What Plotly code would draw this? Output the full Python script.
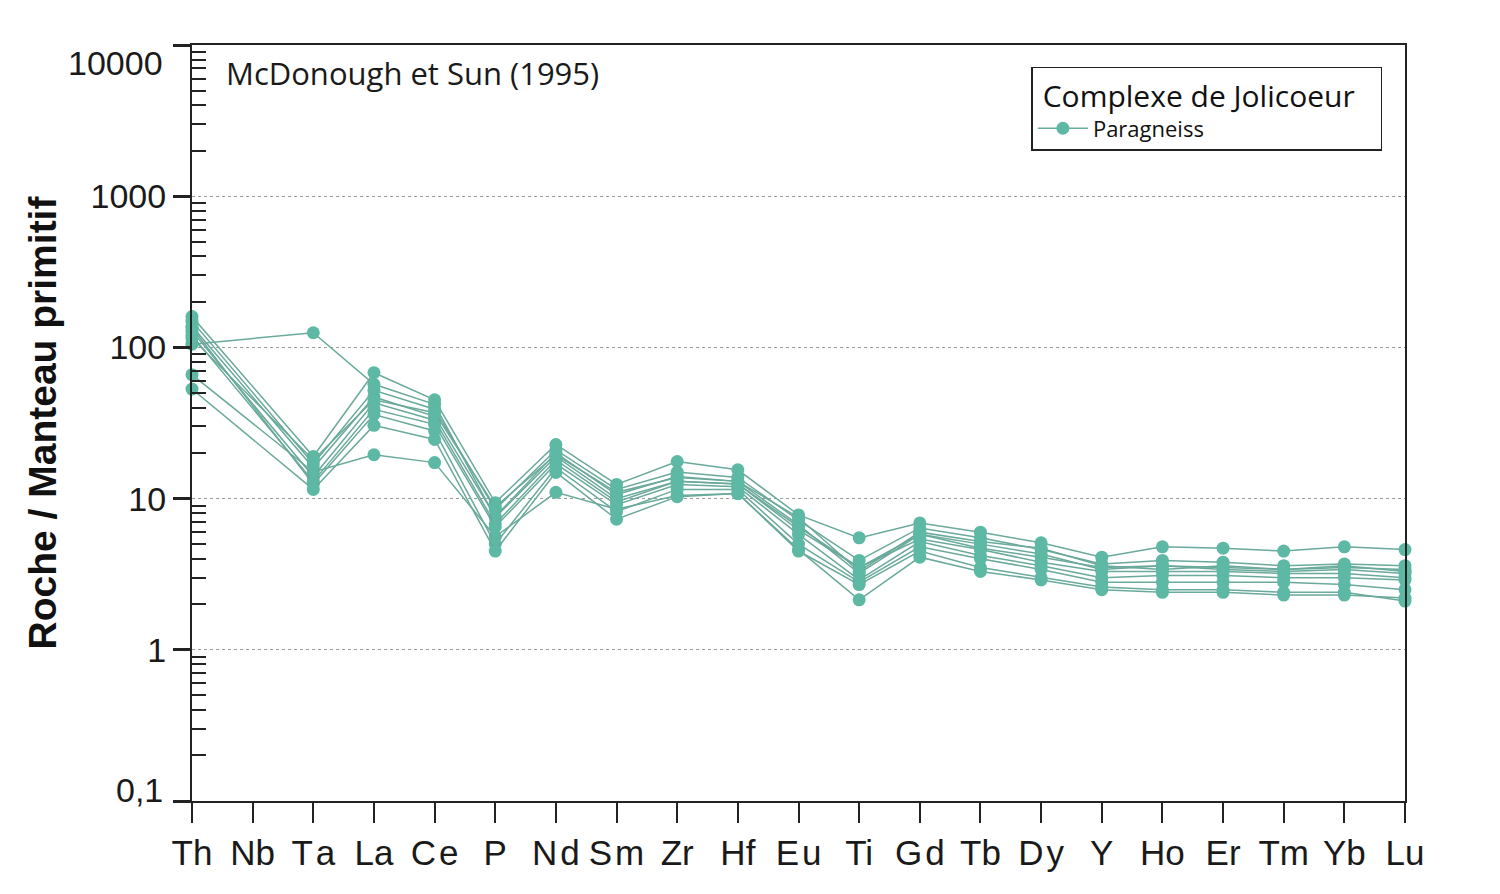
import plotly.graph_objects as go

elements = ["Th", "Nb", "Ta", "La", "Ce", "P", "Nd", "Sm", "Zr", "Hf", "Eu",
            "Ti", "Gd", "Tb", "Dy", "Y", "Ho", "Er", "Tm", "Yb", "Lu"]
hs = "\u200a"
tick_labels = ["Th", "Nb", "T" + hs + "a", "La", "C" + hs + "e", "P", "N" + hs + "d", "S" + hs + "m", "Zr", "Hf",
               "E" + hs + "u", "Ti", "G" + hs + "d", "Tb", "D" + hs + "y", "Y", "Ho", "Er", "Tm", "Yb", "Lu"]

# Roche / Manteau primitif, one list per sample (Nb not analysed)
s1 = [105, None, 125, 57, 42, 7.5, 19, 10, 13, 12.5, 6.5, 3.5, 5.8, 4.7, 4.1, 3.5, 3.6, 3.5, 3.4, 3.5, 3.4]
s2 = [66, None, 15, 19.5, 17.3, 5.6, 11, 8.5, 10.5, 10.8, 4.6, 2.14, 4.1, 3.3, 2.9, 2.5, 2.4, 2.4, 2.3, 2.3, 2.2]
s3 = [160, None, 19, 68, 45, 9.4, 22.8, 12.4, 17.6, 15.5, 7.8, 5.5, 6.9, 6.0, 5.1, 4.1, 4.8, 4.7, 4.5, 4.8, 4.6]
s4 = [149, None, 17, 52, 39, 8.5, 21, 11.5, 15, 13.8, 7.2, 3.9, 6.4, 5.5, 4.6, 3.7, 3.9, 3.8, 3.6, 3.7, 3.6]
s5 = [138, None, 16, 47, 35, 7.6, 20, 10.6, 14, 13, 6.7, 3.2, 5.8, 5.0, 4.3, 3.4, 3.6, 3.4, 3.3, 3.4, 3.2]
s6 = [128, None, 14, 43, 33, 6.8, 18, 9.5, 13, 12.5, 6.2, 3.5, 5.4, 4.6, 3.8, 3.3, 3.3, 3.3, 3.2, 3.2, 3.0]
s7 = [120, None, 13, 39, 31, 6.5, 17, 9.1, 12.4, 12, 5.8, 2.9, 5.2, 4.2, 3.6, 3.0, 3.1, 3.1, 3.0, 3.0, 2.9]
s8 = [135, None, 12.5, 36, 28, 5.0, 16, 8.2, 11.5, 11.5, 5.0, 2.8, 4.8, 4.0, 3.4, 2.8, 2.8, 2.8, 2.8, 2.7, 2.5]
s9 = [53, None, 11.5, 30.5, 24.6, 4.5, 14.9, 7.3, 10.3, 10.8, 4.5, 2.7, 4.5, 3.5, 3.0, 2.6, 2.5, 2.5, 2.4, 2.4, 2.1]
s10 = [115, None, 18, 45, 37, 8.8, 19.5, 11, 13.8, 13, 7.5, 3.3, 6.0, 5.2, 4.7, 3.6, 3.4, 3.6, 3.4, 3.6, 3.3]
samples = [s1, s2, s3, s4, s5, s6, s7, s8, s9, s10]

y_tickvals = [0.1, 1, 10, 100, 1000, 10000]
y_ticktext = ["", "1", "10", "100", "1000", ""]
minor_vals = [m * 10 ** e for e in range(-1, 4) for m in range(2, 10)]

line_col = "#6aa99b"
dot_col = "#5db8a4"
tick_font = dict(family="Liberation Sans, Arial", size=34, color="#1a1a1a")

fig = go.Figure()
for i, s in enumerate(samples):
    fig.add_trace(go.Scatter(
        x=elements, y=s, mode="lines+markers", connectgaps=True, cliponaxis=False,
        line=dict(color=line_col, width=1.5),
        marker=dict(color=dot_col, size=13),
        name="Paragneiss", showlegend=(i == 0)))

fig.add_annotation(text="McDonough et Sun (1995)", xref="paper", yref="paper",
                   x=0.026, y=0.963, xanchor="left", yanchor="middle", showarrow=False,
                   font=dict(family="Open Sans", size=31, color="#1a1a1a"))
# end labels of the y axis sit slightly inside the frame
fig.add_annotation(text="10000", xref="paper", yref="y", x=0, y=4, xshift=-27,
                   yshift=-18, xanchor="right", yanchor="middle", showarrow=False,
                   font=tick_font)
fig.add_annotation(text="0,1", xref="paper", yref="y", x=0, y=-1, xshift=-27,
                   yshift=11, xanchor="right", yanchor="middle", showarrow=False,
                   font=tick_font)

fig.update_layout(
    width=1500, height=894,
    margin=dict(l=184, r=103, t=37, b=101),
    plot_bgcolor="white", paper_bgcolor="white",
    legend=dict(x=0.692, y=0.971, xanchor="left", yanchor="top",
                bordercolor="#222", borderwidth=1.5, bgcolor="white",
                title=dict(text=" Complexe de Jolicoeur   ", side="top",
                           font=dict(family="Open Sans", size=30, color="#111")),
                font=dict(family="Open Sans", size=22, color="#111"),
                itemwidth=50, tracegroupgap=6),
)
fig.update_xaxes(
    type="category", categoryorder="array", categoryarray=elements,
    tickvals=elements, ticktext=tick_labels, range=[0, 20],
    showline=True, linecolor="#222", linewidth=2, mirror=True,
    ticks="outside", ticklen=20, tickwidth=2, tickcolor="#222",
    tickangle=0, automargin=False,
    tickfont=dict(family="Liberation Sans, Arial", size=35, color="#1a1a1a"),
    showgrid=False, zeroline=False)
fig.update_yaxes(
    type="log", range=[-1, 4],
    tickvals=y_tickvals, ticktext=y_ticktext,
    showline=True, linecolor="#222", linewidth=2, mirror=True,
    ticks="outside", ticklen=17, tickwidth=3, tickcolor="#222",
    tickfont=tick_font,
    showgrid=True, gridcolor="#9a9a9a", gridwidth=1, griddash="dot",
    minor=dict(tickvals=minor_vals, ticks="inside", ticklen=14, tickwidth=1.5,
               tickcolor="#222", showgrid=False),
    title=dict(text="<b>Roche / Manteau primitif</b>", standoff=22,
               font=dict(family="Liberation Sans, Arial", size=39, color="#111")),
    zeroline=False)

fig.write_html("out.html")
